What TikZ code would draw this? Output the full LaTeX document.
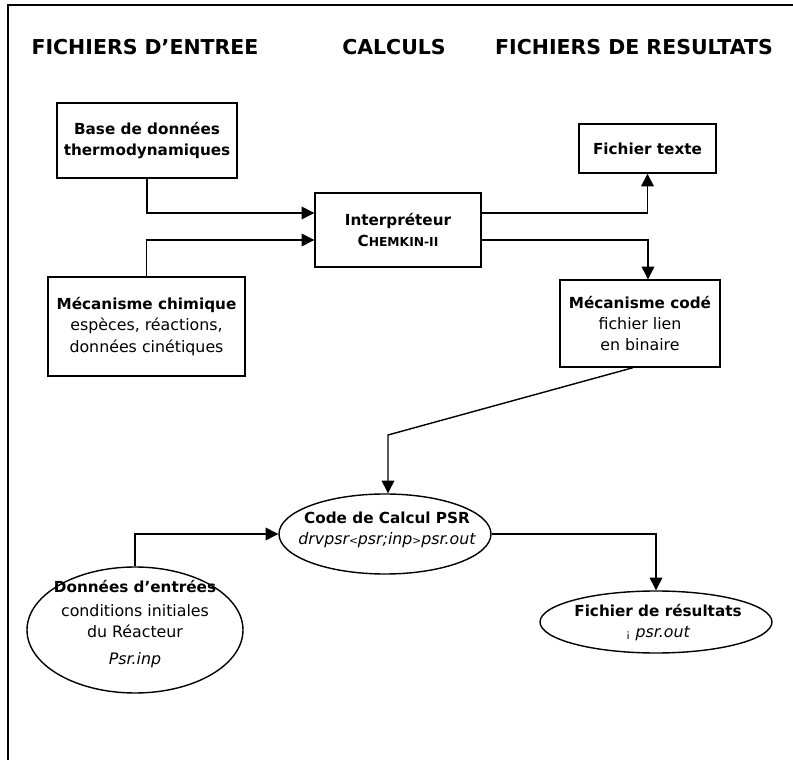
\documentclass[tikz,border=0pt]{standalone}
\usepackage{fontspec}
\setmainfont{DejaVu Sans}
\usetikzlibrary{arrows.meta,shapes.geometric}

\newcommand{\titre}[1]{{\fontsize{13}{18}\selectfont\bfseries #1}}
\newcommand{\fich}[1]{{\itshape #1}}
\newcommand{\petit}[1]{{\fontsize{9}{9}\selectfont #1}}

\begin{document}
\begin{tikzpicture}[x=.3mm,y=-.3mm,>={Triangle[length=3.8mm,width=3.8mm]},line width=1.2pt,
 font=\fontsize{13.5}{18}\selectfont,
 boite/.style={draw,rectangle,align=center,inner sep=0pt},
 bulle/.style={draw,ellipse,inner sep=0pt},
 entete/.style={font=\fontsize{17.5}{20}\selectfont\bfseries}]
\useasboundingbox (0,0) rectangle (793,760);
\draw (8,760)--(8,5)--(793,5);
% en-tetes
\node[entete] (h-entree) at (145,47) {FICHIERS D’ENTREE};
\node[entete] (h-calculs) at (394,47) {CALCULS};
\node[entete] (h-resultats) at (634,47) {FICHIERS DE RESULTATS};
% boites
\node[boite,minimum width=54mm,minimum height=22.5mm] (base) at (147,140.5)
 {\titre{Base de données}\\\titre{thermodynamiques}};
\node[boite,minimum width=49.8mm,minimum height=22.2mm] (interp) at (398,230)
 {\titre{Interpréteur}\\\titre{C{\fontsize{10.5}{12}\selectfont HEMKIN-II}}};
\node[boite,minimum width=41.1mm,minimum height=14.7mm] (texte) at (647.5,148.5)
 {\titre{Fichier texte}};
\node[boite,minimum width=59.1mm,minimum height=29.7mm] (meca) at (146.5,326.5)
 {\titre{Mécanisme chimique}\\espèces, réactions,\\données cinétiques};
\node[boite,minimum width=48mm,minimum height=26.1mm] (codee) at (640,323.5)
 {\titre{Mécanisme codé}\\fichier lien\\en binaire};
% ellipses
\node[bulle,minimum width=63.6mm,minimum height=24mm] (calcul) at (385,534) {};
\node[align=center] (calcul-txt) at (387,530)
 {\titre{Code de Calcul PSR}\\\fich{drvpsr\petit{<}psr;inp\petit{>}psr.out}};
\node[bulle,minimum width=64.8mm,minimum height=37.8mm] (donnees) at (135,630) {};
\node[align=center] (donnees-txt) at (135,624)
 {\titre{Données d’entrées}\\[2pt]conditions initiales\\du Réacteur\\[5pt]\fich{Psr.inp}};
\node[bulle,minimum width=69.6mm,minimum height=18.6mm] (resultats) at (656,622) {};
\node[align=center] (resultats-txt) at (658,623)
 {\titre{Fichier de résultats}\\\petit{¡}\ \fich{psr.out}};
% liaisons
\coordinate (coude) at (388,435);
\draw[->] (base.south) |- ([yshift=5.1mm]interp.west);
\draw[->] (meca.north) |- ([yshift=-3mm]interp.west);
\draw[->] ([yshift=5.1mm]interp.east) -| (texte.south);
\draw[->] ([yshift=-3mm]interp.east) -| ([xshift=2.4mm]codee.north);
\draw[->] ([xshift=-2.1mm]codee.south) -- (coude) -- (coude |- calcul.north);
\draw[->] (donnees.north) |- (calcul.west);
\draw[->] (calcul.east) -| (resultats.north);
\end{tikzpicture}
\end{document}
